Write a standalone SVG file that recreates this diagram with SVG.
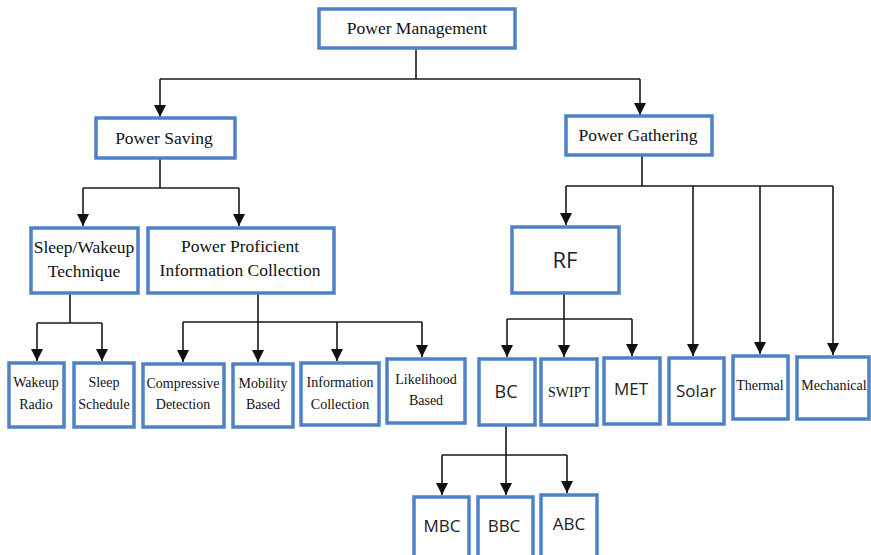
<svg xmlns="http://www.w3.org/2000/svg" width="871" height="555" viewBox="0 0 871 555">
  <style>
    .box { fill: #ffffff; stroke: #4f81c7; stroke-width: 3.5; }
    .link { fill: none; stroke: #1a1a1a; stroke-width: 1.6; }
    .serif { font-family: "Liberation Serif", "Times New Roman", serif; fill: #111; text-anchor: middle; }
    .sans { font-family: "Open Sans", "Liberation Sans", Arial, sans-serif; fill: #222; text-anchor: middle; }
    .big { font-size: 17.5px; }
    .small { font-size: 14px; }
  </style>
  <defs>
    <marker id="arrow" markerUnits="userSpaceOnUse" markerWidth="12" markerHeight="14" viewBox="0 0 12 14" refX="12" refY="7" orient="auto">
      <path d="M0,1 L12,7 L0,13 Z" fill="#111"/>
    </marker>
  </defs>
  <rect width="871" height="555" fill="#ffffff"/>

  <!-- connectors -->
  <g id="connectors" class="link">
    <path d="M416,48 V79 M160,79 H640"/>
    <path d="M160,79 V117" marker-end="url(#arrow)"/>
    <path d="M640,79 V115" marker-end="url(#arrow)"/>

    <path d="M160,159 V188 M83,188 H239"/>
    <path d="M83,188 V226" marker-end="url(#arrow)"/>
    <path d="M239,188 V226" marker-end="url(#arrow)"/>

    <path d="M70,293 V323 M37,323 H102"/>
    <path d="M37,323 V361" marker-end="url(#arrow)"/>
    <path d="M102,323 V361" marker-end="url(#arrow)"/>

    <path d="M258,293 V322 M183,322 H422"/>
    <path d="M183,322 V362" marker-end="url(#arrow)"/>
    <path d="M258,322 V362" marker-end="url(#arrow)"/>
    <path d="M337,322 V361" marker-end="url(#arrow)"/>
    <path d="M422,322 V357" marker-end="url(#arrow)"/>

    <path d="M642,155 V186 M566,186 H833"/>
    <path d="M566,186 V225" marker-end="url(#arrow)"/>
    <path d="M693,186 V356" marker-end="url(#arrow)"/>
    <path d="M760,186 V354" marker-end="url(#arrow)"/>
    <path d="M833,186 V355" marker-end="url(#arrow)"/>

    <path d="M564,293 V319 M507,319 H632"/>
    <path d="M507,319 V357" marker-end="url(#arrow)"/>
    <path d="M564,319 V357" marker-end="url(#arrow)"/>
    <path d="M632,319 V356" marker-end="url(#arrow)"/>

    <path d="M506,425 V455 M442,455 H567"/>
    <path d="M442,455 V495" marker-end="url(#arrow)"/>
    <path d="M506,455 V495" marker-end="url(#arrow)"/>
    <path d="M567,455 V493" marker-end="url(#arrow)"/>
  </g>

  <!-- nodes -->
  <g id="power-management">
    <rect class="box" x="319" y="9" width="196" height="39"/>
    <text class="serif big" x="417" y="34">Power Management</text>
  </g>
  <g id="power-saving">
    <rect class="box" x="96" y="118" width="139" height="40"/>
    <text class="serif big" x="164" y="144">Power Saving</text>
  </g>
  <g id="power-gathering">
    <rect class="box" x="566" y="116" width="146" height="39"/>
    <text class="serif big" x="638" y="141">Power Gathering</text>
  </g>

  <g id="sleep-wakeup">
    <rect class="box" x="31" y="228" width="107" height="65"/>
    <text class="serif big" x="84" y="253">Sleep/Wakeup</text>
    <text class="serif big" x="84" y="277">Technique</text>
  </g>
  <g id="power-proficient">
    <rect class="box" x="148" y="228" width="186" height="65"/>
    <text class="serif big" x="240" y="252">Power Proficient</text>
    <text class="serif big" x="240" y="276">Information Collection</text>
  </g>

  <g id="wakeup-radio">
    <rect class="box" x="9" y="363" width="55" height="64"/>
    <text class="serif small" x="36" y="387">Wakeup</text>
    <text class="serif small" x="36" y="409">Radio</text>
  </g>
  <g id="sleep-schedule">
    <rect class="box" x="74" y="363" width="60" height="64"/>
    <text class="serif small" x="104" y="387">Sleep</text>
    <text class="serif small" x="104" y="409">Schedule</text>
  </g>
  <g id="compressive-detection">
    <rect class="box" x="143" y="364" width="81" height="63"/>
    <text class="serif small" x="183" y="388">Compressive</text>
    <text class="serif small" x="183" y="409">Detection</text>
  </g>
  <g id="mobility-based">
    <rect class="box" x="233" y="364" width="60" height="63"/>
    <text class="serif small" x="263" y="388">Mobility</text>
    <text class="serif small" x="263" y="409">Based</text>
  </g>
  <g id="information-collection">
    <rect class="box" x="301" y="363" width="78" height="62"/>
    <text class="serif small" x="340" y="387">Information</text>
    <text class="serif small" x="340" y="409">Collection</text>
  </g>
  <g id="likelihood-based">
    <rect class="box" x="387" y="359" width="78" height="64"/>
    <text class="serif small" x="426" y="384">Likelihood</text>
    <text class="serif small" x="426" y="405">Based</text>
  </g>

  <g id="rf">
    <rect class="box" x="512" y="227" width="107" height="66"/>
    <text class="sans" x="565" y="268" font-size="22">RF</text>
  </g>
  <g id="bc">
    <rect class="box" x="479" y="359" width="56" height="66"/>
    <text class="sans" x="506" y="398" font-size="18">BC</text>
  </g>
  <g id="swipt">
    <rect class="box" x="541" y="359" width="56" height="66"/>
    <text class="serif small" x="569" y="397">SWIPT</text>
  </g>
  <g id="met">
    <rect class="box" x="604" y="358" width="56" height="66"/>
    <text class="sans" x="631" y="395" font-size="17">MET</text>
  </g>
  <g id="solar">
    <rect class="box" x="669" y="358" width="55" height="66"/>
    <text class="sans" x="696" y="397" font-size="17">Solar</text>
  </g>
  <g id="thermal">
    <rect class="box" x="733" y="356" width="55" height="63"/>
    <text class="serif small" x="760" y="390">Thermal</text>
  </g>
  <g id="mechanical">
    <rect class="box" x="797" y="357" width="72" height="62"/>
    <text class="serif small" x="834" y="390">Mechanical</text>
  </g>

  <g id="mbc">
    <rect class="box" x="414" y="497" width="55" height="70"/>
    <text class="sans" x="442" y="532" font-size="17">MBC</text>
  </g>
  <g id="bbc">
    <rect class="box" x="478" y="497" width="55" height="70"/>
    <text class="sans" x="504" y="532" font-size="17">BBC</text>
  </g>
  <g id="abc">
    <rect class="box" x="541" y="495" width="56" height="70"/>
    <text class="sans" x="569" y="530" font-size="17">ABC</text>
  </g>
</svg>
